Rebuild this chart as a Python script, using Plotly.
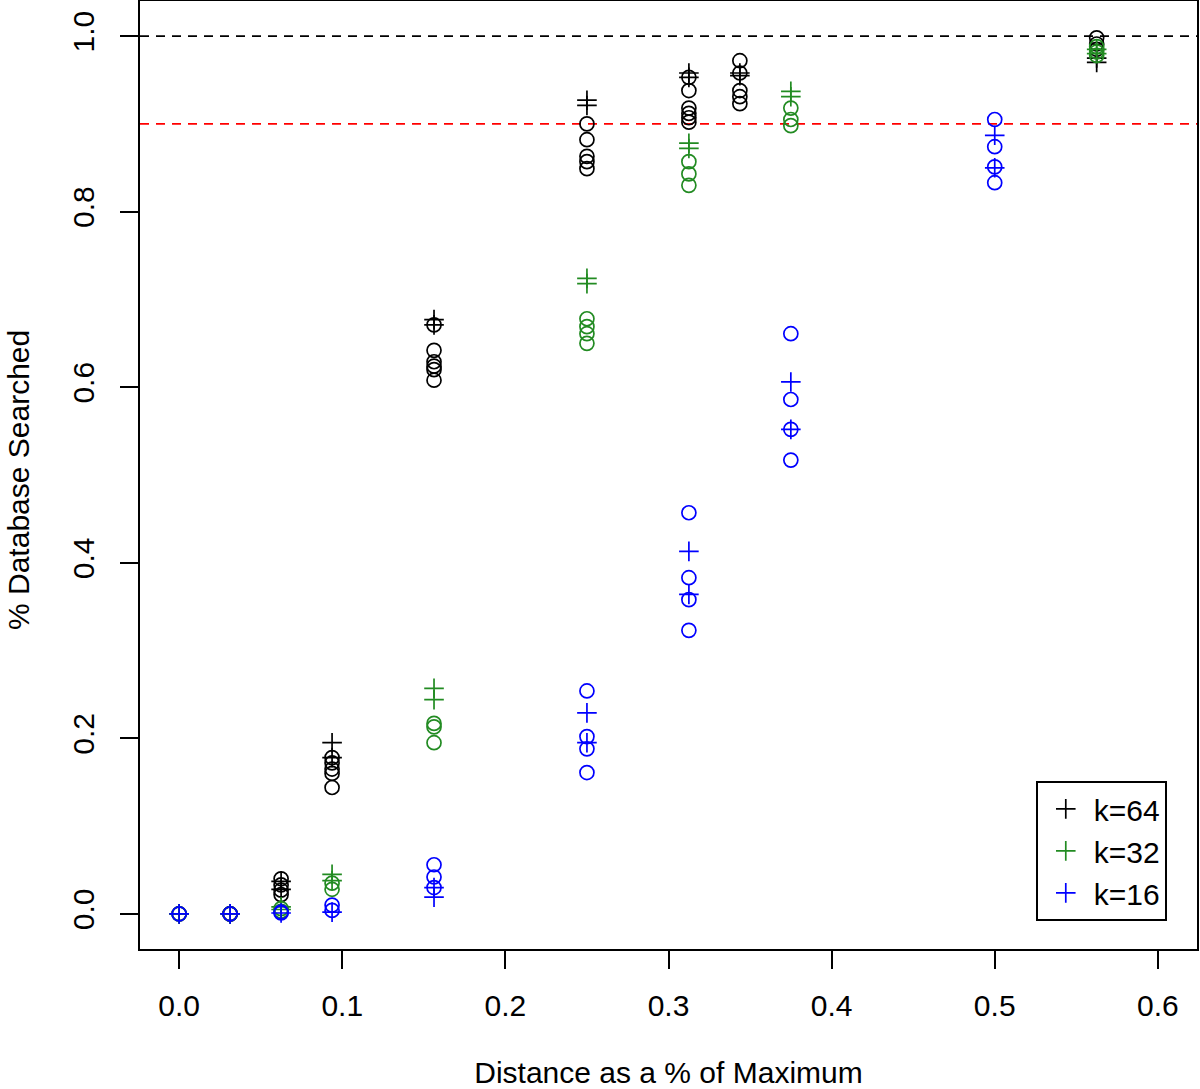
import plotly.graph_objects as go

# ---- data ----
# k=64 (black)
k64_circ_x = [0.0, 0.03125, 0.03125, 0.0625, 0.0625, 0.0625, 0.0625,
              0.09375, 0.09375, 0.09375, 0.09375, 0.09375,
              0.15625, 0.15625, 0.15625, 0.15625, 0.15625, 0.15625,
              0.25, 0.25, 0.25, 0.25, 0.25,
              0.3125, 0.3125, 0.3125, 0.3125, 0.3125, 0.3125,
              0.34375, 0.34375, 0.34375, 0.34375, 0.34375,
              0.5625, 0.5625, 0.5625]
k64_circ_y = [0.0, 0.0, 0.0, 0.040, 0.033, 0.027, 0.022,
              0.178, 0.172, 0.165, 0.160, 0.144,
              0.671, 0.642, 0.629, 0.624, 0.620, 0.608,
              0.900, 0.882, 0.863, 0.857, 0.849,
              0.953, 0.938, 0.918, 0.912, 0.907, 0.902,
              0.972, 0.958, 0.938, 0.931, 0.923,
              0.998, 0.991, 0.985]
k64_plus_x = [0.0, 0.03125, 0.0625, 0.0625, 0.09375, 0.09375, 0.15625, 0.15625,
              0.25, 0.25, 0.3125, 0.3125, 0.34375, 0.34375, 0.5625, 0.5625]
k64_plus_y = [0.0, 0.0, 0.037, 0.028, 0.195, 0.178, 0.677, 0.671,
              0.927, 0.921, 0.958, 0.953, 0.958, 0.955, 0.975, 0.970]

# k=32 (green)
k32_circ_x = [0.0, 0.03125, 0.0625, 0.0625, 0.09375, 0.09375,
              0.15625, 0.15625, 0.15625, 0.25, 0.25, 0.25, 0.25,
              0.3125, 0.3125, 0.3125, 0.375, 0.375, 0.375,
              0.5625, 0.5625, 0.5625]
k32_circ_y = [0.0, 0.0, 0.006, 0.003, 0.035, 0.028,
              0.217, 0.213, 0.195, 0.678, 0.669, 0.661, 0.650,
              0.857, 0.843, 0.830, 0.918, 0.905, 0.898,
              0.988, 0.982, 0.978]
k32_plus_x = [0.0, 0.03125, 0.0625, 0.0625, 0.09375, 0.09375, 0.15625, 0.15625,
              0.25, 0.25, 0.3125, 0.3125, 0.375, 0.375, 0.5625, 0.5625]
k32_plus_y = [0.0, 0.0, 0.008, 0.005, 0.045, 0.038, 0.257, 0.244,
              0.724, 0.718, 0.878, 0.872, 0.937, 0.931, 0.985, 0.980]

# k=16 (blue)
k16_circ_x = [0.0, 0.03125, 0.0625, 0.0625, 0.09375, 0.09375,
              0.15625, 0.15625, 0.15625, 0.25, 0.25, 0.25, 0.25,
              0.3125, 0.3125, 0.3125, 0.3125, 0.375, 0.375, 0.375, 0.375,
              0.5, 0.5, 0.5, 0.5]
k16_circ_y = [0.0, 0.0, 0.002, 0.001, 0.010, 0.004,
              0.056, 0.042, 0.030, 0.254, 0.202, 0.188, 0.161,
              0.457, 0.383, 0.358, 0.323, 0.661, 0.586, 0.552, 0.517,
              0.905, 0.874, 0.851, 0.833]
k16_plus_x = [0.0, 0.03125, 0.0625, 0.09375, 0.15625, 0.15625,
              0.25, 0.25, 0.3125, 0.3125, 0.375, 0.375, 0.5, 0.5]
k16_plus_y = [0.0, 0.0, 0.001, 0.002, 0.030, 0.019,
              0.229, 0.195, 0.413, 0.364, 0.606, 0.552, 0.887, 0.850]

ref_lines = [1.0, 0.9]
ref_colors = ["black", "red"]

x_ticks = [0.0, 0.1, 0.2, 0.3, 0.4, 0.5, 0.6]
y_ticks = [0.0, 0.2, 0.4, 0.6, 0.8, 1.0]

x_title = "Distance as a % of Maximum"
y_title = "% Database Searched"

series = [
    ("k=64", "black", k64_circ_x, k64_circ_y, k64_plus_x, k64_plus_y),
    ("k=32", "#228B22", k32_circ_x, k32_circ_y, k32_plus_x, k32_plus_y),
    ("k=16", "#0000FF", k16_circ_x, k16_circ_y, k16_plus_x, k16_plus_y),
]

FONT = "Liberation Sans, Arial, Helvetica, sans-serif"

fig = go.Figure()

for yv, col in zip(ref_lines, ref_colors):
    fig.add_hline(y=yv, line=dict(color=col, width=1.8, dash="9px,7px"), layer="below")

for name, col, cx, cy, px, py in series:
    fig.add_trace(go.Scatter(
        x=cx, y=cy, mode="markers", showlegend=False, name=name,
        marker=dict(symbol="circle-open", size=14, color=col,
                    line=dict(color=col, width=1.7)),
    ))
    fig.add_trace(go.Scatter(
        x=px, y=py, mode="markers", name=name,
        marker=dict(symbol="cross-thin-open", size=14, color=col,
                    line=dict(color=col, width=1.7)),
    ))

axis_common = dict(
    showgrid=False, zeroline=False, showline=True, mirror=True,
    linecolor="black", linewidth=1.8, ticks="outside", ticklen=18,
    tickwidth=1.8, tickcolor="black", tickformat=".1f", automargin=False,
    tickfont=dict(family=FONT, size=30, color="black"),
)

fig.update_layout(
    width=1200, height=1089,
    paper_bgcolor="white", plot_bgcolor="white",
    margin=dict(l=140, r=3, t=1, b=140, autoexpand=False),
    font=dict(family=FONT, size=30, color="black"),
    xaxis=dict(range=[-0.024, 0.624], tickvals=x_ticks,
               title=dict(text=x_title,
                          font=dict(family=FONT, size=30), standoff=56),
               ticklabelstandoff=11, **axis_common),
    yaxis=dict(range=[-0.04, 1.04], tickvals=y_ticks, tickangle=-90,
               ticklabelstandoff=14, **axis_common),
    legend=dict(x=0.9716, y=0.0295, xanchor="right", yanchor="bottom",
                bordercolor="black", borderwidth=1.8, bgcolor="white",
                font=dict(family=FONT, size=30, color="black"),
                itemwidth=46, tracegroupgap=0),
    showlegend=True,
    annotations=[dict(
        text=y_title, xref="paper", yref="paper",
        x=(18 - 140) / 1057, y=(949 - 480) / 948,
        xanchor="center", yanchor="middle", textangle=-90, showarrow=False,
        font=dict(family=FONT, size=30, color="black"),
    )],
)

fig.write_html(
    "out.html",
    config={"displayModeBar": False},
    post_script="document.body.style.margin='0';document.body.style.overflow='hidden';",
)
